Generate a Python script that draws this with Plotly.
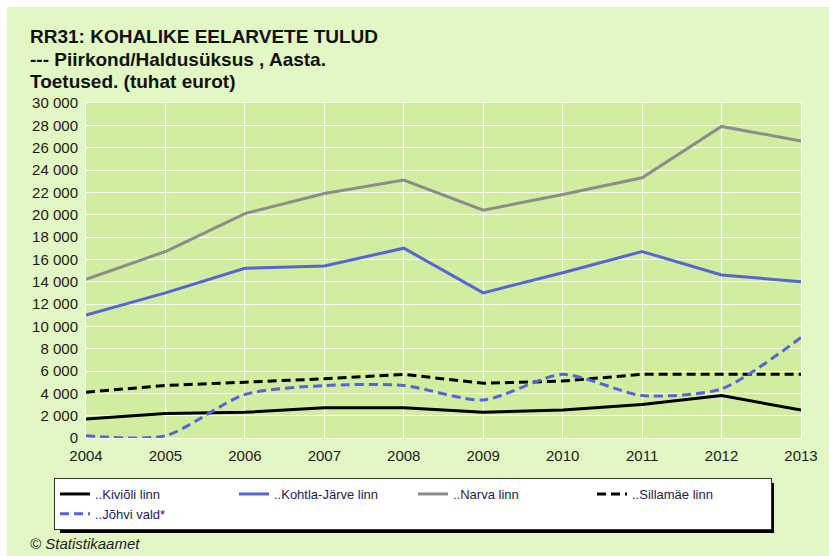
import plotly.graph_objects as go

years = [2004, 2005, 2006, 2007, 2008, 2009, 2010, 2011, 2012, 2013]

kivioli = [1700, 2200, 2300, 2700, 2700, 2300, 2500, 3000, 3800, 2500]
kohtla_jarve = [11000, 13000, 15200, 15400, 17000, 13000, 14800, 16700, 14600, 14000]
narva = [14200, 16700, 20100, 21900, 23100, 20400, 21800, 23300, 27900, 26600]
sillamae = [4100, 4700, 5000, 5300, 5700, 4900, 5100, 5700, 5700, 5700]
johvi = [200, 200, 3900, 4700, 4700, 3400, 5700, 3800, 4400, 9000]

series_names = ["..Kiviõli linn", "..Kohtla-Järve linn", "..Narva linn",
                "..Sillamäe linn", "..Jõhvi vald*"]

title_lines = ["RR31: KOHALIKE EELARVETE TULUD",
               "--- Piirkond/Haldusüksus , Aasta.",
               "Toetused. (tuhat eurot)"]
source_text = "© Statistikaamet"

W, H = 829, 556
L, R, T, B = 86, 28, 103, 118
PW, PH = W - L - R, H - T - B
FONT = "Liberation Sans, Arial, sans-serif"


def px_x(px):
    return (px - L) / PW


def px_y(py):
    return (H - B - py) / PH


BLUE = "#5566d4"
GRAY = "#8c8c8c"
BLACK = "#000000"

fig = go.Figure()
styles = [
    (kivioli, BLACK, "solid", "linear"),
    (kohtla_jarve, BLUE, "solid", "linear"),
    (narva, GRAY, "solid", "linear"),
    (sillamae, BLACK, "9px,5px", "linear"),
    (johvi, BLUE, "9px,5px", "spline"),
]
for name, (vals, color, dash, shape) in zip(series_names, styles):
    line = dict(color=color, width=3, dash=dash, shape=shape)
    if shape == "spline":
        line["smoothing"] = 0.7
    fig.add_trace(go.Scatter(x=years, y=vals, name=name, mode="lines",
                             line=line))

annotations = []
for i, txt in enumerate(title_lines):
    annotations.append(dict(
        text="<b>" + txt + "</b>", xref="paper", yref="paper",
        x=px_x(28), y=px_y(37 + i * 22.5), xanchor="left", yanchor="middle",
        showarrow=False, font=dict(size=19, color="#111111", family=FONT)))
annotations.append(dict(
    text="<i>" + source_text + "</i>", xref="paper", yref="paper",
    x=px_x(28), y=px_y(543), xanchor="left", yanchor="middle",
    showarrow=False, font=dict(size=15, color="#222222", family=FONT)))

shapes = [
    # white strips along the top and left edges
    dict(type="rect", xref="paper", yref="paper", layer="below",
         x0=px_x(0), x1=px_x(W), y0=px_y(7), y1=px_y(0),
         fillcolor="white", line=dict(width=0)),
    dict(type="rect", xref="paper", yref="paper", layer="below",
         x0=px_x(0), x1=px_x(7), y0=px_y(H), y1=px_y(0),
         fillcolor="white", line=dict(width=0)),
    # legend drop shadow
    dict(type="rect", xref="paper", yref="paper", layer="above",
         x0=px_x(60), x1=px_x(774), y0=px_y(533), y1=px_y(483),
         fillcolor="black", line=dict(width=0)),
]

fig.update_layout(
    width=W, height=H,
    margin=dict(l=L, r=R, t=T, b=B, pad=0),
    paper_bgcolor="#e2f8c4",
    plot_bgcolor="#d1ed9f",
    separators=", ",
    font=dict(family=FONT, size=15, color="#1a1a1a"),
    showlegend=True,
    legend=dict(
        orientation="h", x=px_x(54), y=px_y(478), xanchor="left",
        yanchor="top", bgcolor="white", bordercolor="#333333",
        borderwidth=1, entrywidth=134, entrywidthmode="pixels",
        font=dict(size=13, color="#1c1c50"), traceorder="normal",
        itemclick=False, tracegroupgap=0,
    ),
    annotations=annotations,
    shapes=shapes,
)
fig.update_xaxes(
    range=[2004, 2013], tickmode="array", tickvals=years,
    ticktext=[str(y) for y in years], showgrid=True, gridcolor="white",
    gridwidth=1, zeroline=False, showline=True, linecolor="white",
    linewidth=1, mirror=True, ticks="", ticklabelstandoff=4,
    tickfont=dict(size=15),
)
fig.update_yaxes(
    range=[0, 30000], dtick=2000, tick0=0, separatethousands=True,
    tickformat=",d", showgrid=True, gridcolor="white", gridwidth=1,
    zeroline=False, showline=True, linecolor="white", linewidth=1,
    mirror=True, ticks="", ticklabelstandoff=4, tickfont=dict(size=15),
)

fig.write_html("out.html")
